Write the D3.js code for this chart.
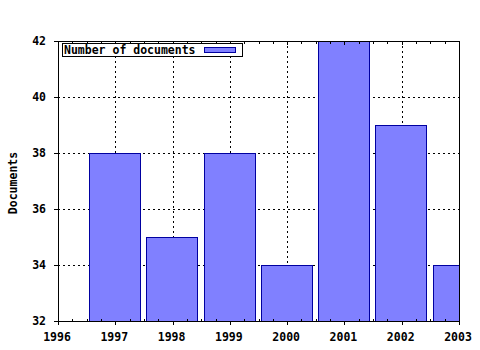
<!DOCTYPE html>
<html><head><meta charset="utf-8">
<script src="https://cdn.jsdelivr.net/npm/d3@7"></script>
<style>
body{margin:0;background:#fff;}
svg text{font-family:"DejaVu Sans Mono",monospace;font-weight:bold;font-size:11.5px;fill:#000;}
</style></head>
<body><svg id="c" width="480" height="350"></svg>
<script>
const years = [1997, 1998, 1999, 2000, 2001, 2002, 2003];
const documents = [38, 35, 38, 34, 42, 39, 34];
const xTicks = [1996, 1997, 1998, 1999, 2000, 2001, 2002, 2003];
const yTicks = [32, 34, 36, 38, 40, 42];
const seriesName = "Number of documents";
const yTitle = "Documents";

const L = 58, R = 459, T = 41, B = 321;
const svg = d3.select("#c");
const x = d3.scaleLinear().domain([1996, 2003]).range([L, R]);
const y = d3.scaleLinear().domain([32, 42]).range([B, T]);
const h = v => Math.round(v) + 0.5;

svg.append("defs").append("clipPath").attr("id", "plot")
  .append("rect").attr("x", L).attr("y", T).attr("width", R - L).attr("height", B - T + 1);

// grid
const grid = svg.append("g").attr("stroke", "#000").attr("stroke-dasharray", "2,3").attr("stroke-width", 1);
xTicks.slice(1, -1).forEach(t => grid.append("line").attr("x1", h(x(t))).attr("x2", h(x(t))).attr("y1", T).attr("y2", B));
yTicks.slice(1, -1).forEach(t => grid.append("line").attr("y1", h(y(t))).attr("y2", h(y(t))).attr("x1", L).attr("x2", R));

// bars
const bw = 0.9 * (x(1997) - x(1996));
svg.append("g").attr("clip-path", "url(#plot)").selectAll("rect").data(years).join("rect")
  .attr("x", (d) => Math.floor(x(d) - bw / 2) + 0.5)
  .attr("y", (d, i) => Math.round(y(documents[i])) + 0.5)
  .attr("width", Math.floor(bw))
  .attr("height", (d, i) => Math.round(B - y(documents[i])))
  .attr("fill", "#8080ff").attr("stroke", "#0000a0").attr("stroke-width", 1);

// frame
const ax = svg.append("g").attr("stroke", "#000").attr("stroke-width", 1);
ax.append("rect").attr("x", L + 0.5).attr("y", T + 0.5).attr("width", R - L).attr("height", B - T).attr("fill", "none");

// x ticks
const minor = [];
for (let i = 0; i < xTicks.length - 1; i++) for (let q = 1; q < 4; q++) minor.push(xTicks[i] + q / 4);
xTicks.forEach(t => {
  ax.append("line").attr("x1", h(x(t))).attr("x2", h(x(t))).attr("y1", B).attr("y2", B + 4);
  ax.append("line").attr("x1", h(x(t))).attr("x2", h(x(t))).attr("y1", T).attr("y2", T + 4);
});
minor.forEach(t => {
  ax.append("line").attr("x1", h(x(t))).attr("x2", h(x(t))).attr("y1", B - 2).attr("y2", B);
  ax.append("line").attr("x1", h(x(t))).attr("x2", h(x(t))).attr("y1", T + 1).attr("y2", T + 3);
});
yTicks.forEach(t => {
  ax.append("line").attr("x1", L - 4).attr("x2", L).attr("y1", h(y(t))).attr("y2", h(y(t)));
});

// labels
svg.append("g").selectAll("text").data(xTicks).join("text")
  .attr("x", d => x(d) - 1).attr("y", 341).attr("text-anchor", "middle").text(d => d);
svg.append("g").selectAll("text").data(yTicks).join("text")
  .attr("x", 46).attr("y", d => y(d) + 4).attr("text-anchor", "end").text(d => d);
svg.append("text").attr("transform", "translate(17,183) rotate(-90)").attr("text-anchor", "middle").text(yTitle);

// legend
const lg = svg.append("g");
lg.append("rect").attr("x", 62.5).attr("y", 43.5).attr("width", 180).attr("height", 13).attr("fill", "#fff").attr("stroke", "#000");
lg.append("text").attr("x", 64).attr("y", 54).text(seriesName);
lg.append("rect").attr("x", 204.5).attr("y", 47.5).attr("width", 31).attr("height", 5).attr("fill", "#8080ff").attr("stroke", "#0000a0");
</script></body></html>
